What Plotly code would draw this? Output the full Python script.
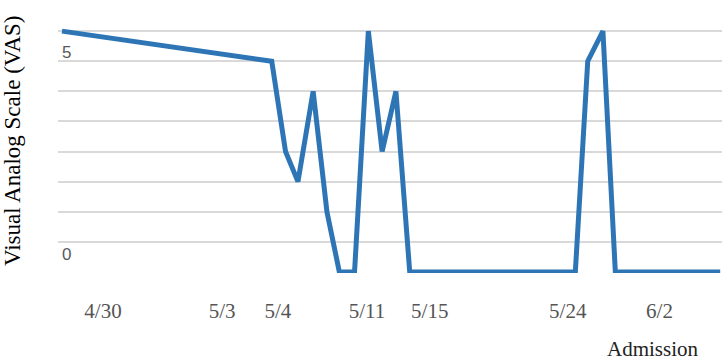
import plotly.graph_objects as go

# Measurement positions (relative time index) and VAS scores
positions = [0, 15.2, 16.2, 17.1, 18.2, 19.2, 20.1, 21.2, 22.2, 23.2, 24.2, 25.2,
             37.2, 38.1, 39.2, 40.1, 47.7]
vas = [8, 7, 4, 3, 6, 2, 0, 0, 8, 4, 6, 0, 0, 7, 8, 0, 0]

# x-axis date labels and their positions
date_labels = ["4/30", "5/3", "5/4", "5/11", "5/15", "5/24", "6/2"]
date_positions = [2.97, 11.6, 15.65, 22.1, 26.65, 36.65, 43.3]

# y-axis labels shown
y_labels = ["5", "0"]
y_label_pos = [7.3, 0.57]

fig = go.Figure()
fig.add_trace(go.Scatter(
    x=positions, y=vas, mode="lines",
    line=dict(color="#2E75B6", width=5),
    hoverinfo="skip", showlegend=False,
))

for t, p in zip(y_labels, y_label_pos):
    fig.add_annotation(text=t, xref="paper", yref="y", x=0.003, y=p,
                       xanchor="left", yanchor="middle", showarrow=False,
                       font=dict(family="Liberation Sans", size=17, color="#595959"))

fig.add_annotation(text="Visual Analog Scale (VAS)", xref="paper", yref="paper",
                   x=-0.0693, y=0.487, textangle=-90, xanchor="center", yanchor="middle",
                   showarrow=False,
                   font=dict(family="Liberation Serif", size=23, color="#000000"))
fig.add_annotation(text="Admission", xref="paper", yref="paper",
                   x=0.896, y=-0.279, xanchor="center", yanchor="middle",
                   showarrow=False,
                   font=dict(family="Liberation Serif", size=21, color="#222222"))

fig.update_layout(
    width=722, height=360,
    margin=dict(l=58, r=0, t=0, b=87),
    paper_bgcolor="white", plot_bgcolor="white",
    xaxis=dict(range=[-0.29, 47.83], tickvals=date_positions, ticktext=date_labels,
               showgrid=False, zeroline=False, showline=False, ticks="",
               ticklabelstandoff=23,
               tickfont=dict(family="Liberation Serif", size=21, color="#555555")),
    yaxis=dict(range=[-0.033, 9.033], dtick=1, tick0=0, showgrid=True,
               gridcolor="#d9d9d9", gridwidth=2, zeroline=False,
               showticklabels=False, ticks=""),
)

fig.write_html("out.html")
